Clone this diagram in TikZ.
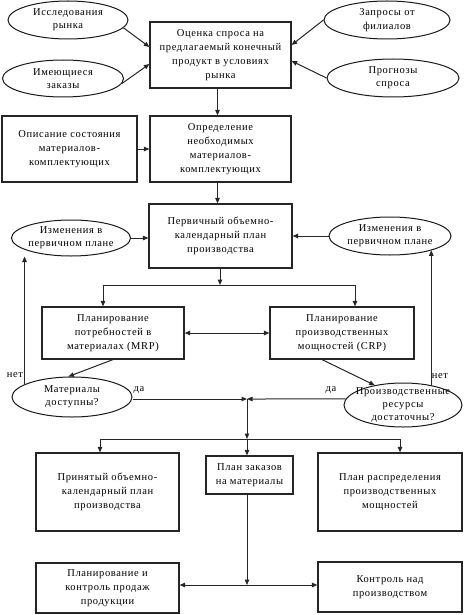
\documentclass[tikz,border=0pt]{standalone}
\usepackage{fontspec}
\setmainfont[LetterSpace=6]{Liberation Serif}
\usetikzlibrary{arrows.meta,calc,shapes.geometric}
\begin{document}
\begin{tikzpicture}[x=1pt,y=-1pt,
  box/.style={draw=black!85, line width=1.2pt, rectangle, inner sep=0pt, align=center, font=\fontsize{10.5}{14}\selectfont},
  oval/.style={draw=black!90, line width=1pt, ellipse, inner sep=-25pt, align=center, font=\fontsize{10.5}{13.3}\selectfont},
  conn/.style={line width=1pt, draw=black!85, -{Triangle[length=5.5pt,width=4.5pt]}},
  dconn/.style={line width=1pt, draw=black!85, {Triangle[length=5.5pt,width=4.5pt]}-{Triangle[length=5.5pt,width=4.5pt]}},
  lbl/.style={font=\fontsize{10.5}{12}\selectfont, inner sep=0pt}]
\useasboundingbox (0,0) rectangle (464,615);
% top
\node[box, minimum width=141pt, minimum height=66pt] (b1) at (220.5,55) {Оценка спроса на\\предлагаемый конечный\\продукт в условиях\\рынка};
\node[oval, minimum width=120pt, minimum height=38pt] (e1) at (68,20) {Исследования\\рынка};
\node[oval, minimum width=121pt, minimum height=37pt] (e2) at (63,78.5) {Имеющиеся\\заказы};
\node[oval, minimum width=126pt, minimum height=38pt] (e3) at (387,20) {Запросы от\\филиалов};
\node[oval, minimum width=132pt, minimum height=38pt] (e4) at (393,78) {Прогнозы\\спроса};
% second row
\node[box, minimum width=135pt, minimum height=66pt] (b2) at (69.5,149) {Описание состояния\\материалов-\\комплектующих};
\node[box, minimum width=141pt, minimum height=66pt] (b3) at (220.5,149) {Определение\\необходимых\\материалов-\\комплектующих};
% third row
\node[box, minimum width=143pt, minimum height=64pt] (b4) at (220.5,236) {Первичный объемно-\\календарный план\\производства};
\node[oval, minimum width=119pt, minimum height=36pt] (e5) at (71,238) {Изменения в\\первичном плане};
\node[oval, minimum width=122pt, minimum height=38pt] (e6) at (390,236) {Изменения в\\первичном плане};
% MRP / CRP
\node[box, minimum width=142pt, minimum height=52pt] (b5) at (113,333) {Планирование\\потребностей в\\материалах (MRP)};
\node[box, minimum width=144pt, minimum height=52pt] (b6) at (342,333) {Планирование\\производственных\\мощностей (CRP)};
\node[oval, minimum width=120pt, minimum height=40pt] (e7) at (72,397) {Материалы\\доступны?};
\node[oval, minimum width=118pt, minimum height=44pt] (e8) at (403,405) {Производственные\\ресурсы\\достаточны?};
% results
\node[box, minimum width=143pt, minimum height=78pt] (b7) at (107.5,492) {Принятый объемно-\\календарный план\\производства};
\node[box, minimum width=87pt, minimum height=38pt] (b8) at (249.5,475) {План заказов\\на материалы};
\node[box, minimum width=144pt, minimum height=78pt] (b9) at (390,492) {План распределения\\производственных\\мощностей};
\node[box, minimum width=143pt, minimum height=50pt] (b10) at (107.5,588) {Планирование и\\контроль продаж\\продукции};
\node[box, minimum width=144pt, minimum height=50pt] (b11) at (390,587) {Контроль над\\производством};
% connectors top
\draw[conn] (e1.-8) -- ([yshift=8pt]b1.west);
\draw[conn] (e2.-5) -- ([yshift=-9pt]b1.west);
\draw[conn] (e3.west) -- ([yshift=10pt]b1.east);
\draw[conn] (e4.west) -- ([yshift=-6pt]b1.east);
\draw[conn] ([xshift=-3pt]b1.south) -- ([xshift=-3pt]b3.north);
\draw[conn] (b2.east) -- (b3.west);
\draw[conn] ([xshift=-3pt]b3.south) -- ([xshift=-3pt]b4.north);
\draw[conn] (e5.east) -- (e5.east -| b4.west);
\draw[conn] (e6.west) -- (e6.west -| b4.east);
% split to MRP/CRP
\coordinate (j0) at (220,285);
\draw[conn] (b4.south -| j0) -- (j0);
\draw[conn] (j0) -| ([xshift=-10pt]b5.north);
\draw[conn] (j0) -| ([xshift=13pt]b6.north);
\draw[dconn] (b5.east) -- (b6.west);
\draw[conn] (b5.south) -- (e7.100);
\draw[conn] ([xshift=-20pt]b6.south) -- (e8.145);
% feedback
\draw[conn] (e7.165) -- (e7.165 |- e5.south);
\draw[conn] (e8.35) -- (e8.35 |- e6.-19);
\node[lbl] (n1) at (15,375) {нет};
\node[lbl] (n2) at (440,376) {нет};
% yes branch
\coordinate (j1) at (247,399);
\draw[conn] (j1 -| e7.east) -- (j1);
\draw[conn] (e8.174) -- (j1);
\node[lbl] (d1) at (139,390.5) {да};
\node[lbl] (d2) at (331,390.5) {да};
\coordinate (j2) at (247,439);
\draw[conn] (j1) -- (j2);
\draw[conn] (j2) -| ([xshift=-7.5pt]b7.north);
\draw[conn] (j2) -| ([xshift=10pt]b9.north);
\draw[conn] (j2) -- (j2 |- b8.north);
\coordinate (j3) at (247,585);
\draw[conn] (j3 |- b8.south) -- (j3);
\draw[conn] (j3) -- (j3 -| b10.east);
\draw[conn] (j3) -- (j3 -| b11.west);
\end{tikzpicture}
\end{document}
